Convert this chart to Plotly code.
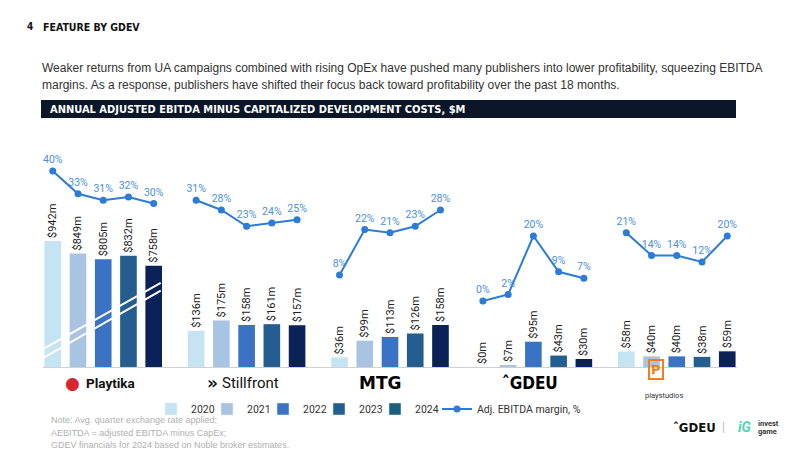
import plotly.graph_objects as go

# ---------------- data ----------------
companies = ["Playtika", "Stillfront", "MTG", "GDEV", "Playstudios"]
years = ["2020", "2021", "2022", "2023", "2024"]

ebitda_2020 = [942, 136, 36, 0, 58]
ebitda_2021 = [849, 175, 99, 7, 40]
ebitda_2022 = [805, 158, 113, 95, 40]
ebitda_2023 = [832, 161, 126, 43, 38]
ebitda_2024 = [758, 157, 158, 30, 59]

margin_playtika = [40, 33, 31, 32, 30]
margin_stillfront = [31, 28, 23, 24, 25]
margin_mtg = [8, 22, 21, 23, 28]
margin_gdev = [0, 2, 20, 9, 7]
margin_playstudios = [21, 14, 14, 12, 20]

bar_colors = ["#c4e3f3", "#a9c4e3", "#3a73c3", "#245e8e", "#0b2259"]
legend_colors = ["#c4e3f3", "#a9c4e3", "#3a73c3", "#245e8e", "#1a5f7e"]
line_color = "#2b7bd8"
label_blue = "#4a8fe0"

series = [ebitda_2020, ebitda_2021, ebitda_2022, ebitda_2023, ebitda_2024]
margins = [margin_playtika, margin_stillfront, margin_mtg, margin_gdev, margin_playstudios]

# ---------------- geometry ----------------
SLOT = 0.176      # spacing between bars inside a group (category units)
BAR_W = 0.116
ML, MR, MT, MB = 43, 63, 150, 83
PW, PH = 800 - ML - MR, 450 - MT - MB


def px(xp):
    return (xp - ML) / PW


def py(yp):
    return (450 - MB - yp) / PH


fig = go.Figure()

for j, (yr, vals) in enumerate(zip(years, series)):
    off = (j - 2) * SLOT
    common = dict(
        width=BAR_W,
        marker=dict(color=bar_colors[j], line=dict(width=0)),
        texttemplate="$%{y}m",
        textposition="outside",
        textangle=-90,
        constraintext="none",
        cliponaxis=False,
        textfont=dict(family="Roboto", size=11, color="#222222"),
        showlegend=False,
        hoverinfo="skip",
    )
    # Playtika on its own (compressed) axis
    fig.add_trace(go.Bar(x=[0 + off], y=vals[:1], yaxis="y3", name=yr, **common))
    # the others on the main axis
    fig.add_trace(go.Bar(x=[i + off for i in range(1, len(companies))], y=vals[1:],
                         yaxis="y", name=yr, **common))

legend_names = ["legend", "legend2", "legend3", "legend4", "legend5"]

# legend-only entries (one small legend box per year)
for j, yr in enumerate(years):
    fig.add_trace(go.Bar(x=[None], y=[None], name=yr, legend=legend_names[j],
                         marker=dict(color=legend_colors[j]), showlegend=True))

# margin line (one trace, gaps between companies)
lx, ly, lt = [], [], []
for i, m in enumerate(margins):
    for j, v in enumerate(m):
        lx.append(i + (j - 2) * SLOT)
        ly.append(v)
        lt.append(f"{v}%")
    lx.append(None)
    ly.append(None)
    lt.append("")

fig.add_trace(go.Scatter(
    x=lx, y=ly, text=lt, yaxis="y2", mode="lines+markers+text",
    textposition="top center", textfont=dict(family="Roboto", size=10.5, color=label_blue),
    line=dict(color=line_color, width=2), marker=dict(color=line_color, size=7),
    name="Adj. EBITDA margin, %", connectgaps=False, cliponaxis=False, hoverinfo="skip",
    legend="legend6",
))

# ---------------- layout ----------------
ann = []


def add_text(x, y, text, size, color="#222", family="Roboto", xanchor="center", yanchor="middle"):
    ann.append(dict(x=px(x), y=py(y), xref="paper", yref="paper", text=text, showarrow=False,
                    xanchor=xanchor, yanchor=yanchor,
                    font=dict(size=size, color=color, family=family)))


NARROW = "DejaVu Sans Condensed, Arial"
add_text(25, 27, "<b>4</b>", 10, "#111", NARROW, "left")
add_text(41, 27, "<b>FEATURE BY GDEV</b>", 10.5, "#111", NARROW, "left")
add_text(40, 68, "Weaker returns from UA campaigns combined with rising OpEx have pushed many publishers into lower profitability, squeezing EBITDA",
         12, "#333", "Liberation Sans, Arial", "left")
add_text(40, 85, "margins. As a response, publishers have shifted their focus back toward profitability over the past 18 months.",
         12, "#333", "Liberation Sans, Arial", "left")
add_text(48, 109.5, "<b>ANNUAL ADJUSTED EBITDA MINUS CAPITALIZED DEVELOPMENT COSTS, $M</b>", 11, "#ffffff", NARROW, "left")

# company logos as text
add_text(72, 383, "●", 17, "#d8262f", "DejaVu Sans")
add_text(84, 383, "<b>Playtika</b>", 13.5, "#111", "Roboto", "left")
add_text(212, 383, "<b>»</b>", 17, "#111", "DejaVu Sans")
add_text(220, 383, "Stillfront", 15, "#111", "Roboto", "left")
add_text(380, 383, "<b>MTG</b>", 17, "#000", "DejaVu Sans")
add_text(530, 383, "<b>ˆGDEU</b>", 17, "#000", "DejaVu Sans Condensed, DejaVu Sans")
ann.append(dict(x=px(664), y=py(380), xref="paper", yref="paper", text="<b>P</b>", showarrow=False,
                font=dict(size=13, color="#f07d21", family="DejaVu Sans"),
                bordercolor="#f07d21", borderwidth=2, borderpad=1))
add_text(664, 395, "playstudios", 7.5, "#333", "Roboto")

# notes
add_text(49, 420, "Note: Avg. quarter exchange rate applied;", 9, "#b0b0b0", "Liberation Sans, Arial", "left")
add_text(49, 432.5, "AEBITDA = adjusted EBITDA minus CapEx;", 9, "#b0b0b0", "Liberation Sans, Arial", "left")
add_text(49, 445, "GDEV financials for 2024 based on Noble broker estimates.", 9, "#b0b0b0", "Liberation Sans, Arial", "left")

# bottom-right branding
add_text(694, 427, "<b>ˆGDEU</b>", 13, "#111", "DejaVu Sans Condensed, DejaVu Sans")
add_text(723, 427, "|", 12, "#bbbbbb", "Roboto")
add_text(745, 427, "<b><i>iG</i></b>", 14, "#55d2b4", "Roboto")
add_text(756, 423, "<b>invest</b>", 7.5, "#333", "Roboto", "left")
add_text(756, 431, "<b>game</b>", 7.5, "#333", "Roboto", "left")

shapes = [
    dict(type="rect", xref="paper", yref="paper", x0=px(41), x1=px(736), y0=py(118), y1=py(100),
         fillcolor="#0b1628", line=dict(width=0), layer="below"),
    # axis-break strokes on the Playtika bars
    dict(type="line", xref="x", yref="y3", x0=-0.411, x1=0.401, y0=140, y1=630,
         line=dict(color="white", width=2)),
    dict(type="line", xref="x", yref="y3", x0=-0.411, x1=0.401, y0=72, y1=571,
         line=dict(color="white", width=2)),
]

legend_font = dict(size=10.5, color="#333", family="Roboto")
legend_x_px = [151, 207, 263, 319, 375, 437]
legend_layout = {}
for k, xp in enumerate(legend_x_px):
    key = "legend" if k == 0 else f"legend{k + 1}"
    legend_layout[key] = dict(orientation="h", x=px(xp), y=py(409), xanchor="left",
                              yanchor="middle", font=legend_font,
                              bgcolor="rgba(0,0,0,0)", itemwidth=30)

fig.update_layout(
    width=800, height=450,
    margin=dict(l=ML, r=MR, t=MT, b=MB, pad=0),
    paper_bgcolor="white", plot_bgcolor="white",
    barmode="overlay",
    font=dict(family="Roboto", color="#333"),
    xaxis=dict(range=[-0.42, 4.42], showgrid=False, zeroline=False, showticklabels=False,
               ticks="", showline=True, linecolor="#d0d0d0", linewidth=1, fixedrange=True),
    yaxis=dict(range=[0, PH / 0.266], visible=False, fixedrange=True),
    yaxis2=dict(range=[-(450 - MB - 301) / 3.25, (301 - MT) / 3.25], overlaying="y",
                visible=False, fixedrange=True),
    yaxis3=dict(range=[0, PH / 0.1337], overlaying="y", visible=False, fixedrange=True),
    annotations=ann,
    shapes=shapes,
    **legend_layout,
)

fig.write_html("out.html")
